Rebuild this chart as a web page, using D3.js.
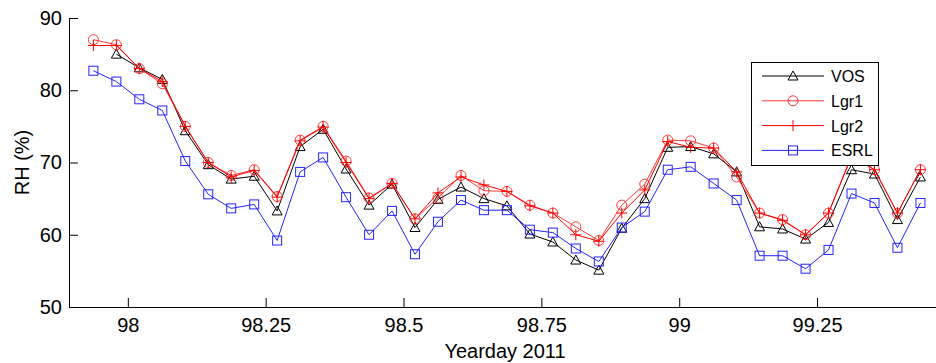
<!DOCTYPE html>
<html>
<head>
<meta charset="utf-8">
<script src="https://cdn.jsdelivr.net/npm/d3@7/dist/d3.min.js"></script>
<style>
  html, body { margin: 0; padding: 0; background: #fff; }
  svg { display: block; font-family: Arial, "Liberation Sans", sans-serif; }
</style>
</head>
<body>
<svg id="chart" width="936" height="363"></svg>
<script>
// Hourly relative humidity, yeardays 98-99 of 2011
const yearday = [
  97.9375, 97.9792, 98.0208, 98.0625, 98.1042, 98.1458, 98.1875, 98.2292,
  98.2708, 98.3125, 98.3542, 98.3958, 98.4375, 98.4792, 98.5208, 98.5625,
  98.6042, 98.6458, 98.6875, 98.7292, 98.7708, 98.8125, 98.8542, 98.8958,
  98.9375, 98.9792, 99.0208, 99.0625, 99.1042, 99.1458, 99.1875, 99.2292,
  99.2708, 99.3125, 99.3542, 99.3958, 99.4375
];
const vos = [
  null, 85.0, 83.1, 81.5, 74.4, 69.7, 67.7, 68.1, 63.3, 72.2, 74.6, 69.1,
  64.1, 67.0, 61.0, 64.9, 66.6, 65.0, 64.0, 60.1, 59.0, 56.5, 55.1, 60.9,
  65.0, 72.1, 72.2, 71.2, 68.7, 61.1, 60.8, 59.4, 61.7, 69.0, 68.4, 62.1, 68.0
];
const lgr1 = [
  87.0, 86.3, 83.0, 80.9, 75.0, 70.0, 68.2, 69.0, 65.3, 73.1, 75.0, 70.2,
  65.1, 67.1, 62.2, 65.1, 68.2, 66.1, 66.0, 64.1, 63.0, 61.1, 59.2, 64.1,
  67.0, 73.1, 73.0, 72.0, 68.0, 63.0, 62.1, 60.0, 63.0, 71.0, 69.0, 63.0, 69.0
];
const lgr2 = [
  86.2, 86.2, 83.0, 81.2, 75.0, 70.0, 68.0, 68.9, 65.2, 73.0, 74.9, 70.0,
  65.0, 67.1, 62.2, 65.8, 68.0, 66.9, 66.0, 64.0, 63.0, 60.0, 59.1, 63.0,
  66.2, 72.9, 72.1, 72.0, 68.7, 63.0, 62.0, 60.0, 63.0, 70.8, 69.0, 63.0, 69.0
];
const esrl = [
  82.7, 81.2, 78.75, 77.2, 70.2, 65.6, 63.65, 64.2, 59.2, 68.7, 70.7, 65.2,
  60.0, 63.3, 57.3, 61.8, 64.8, 63.4, 63.4, 60.7, 60.3, 58.1, 56.3, 61.0,
  63.2, 69.0, 69.4, 67.1, 64.8, 57.1, 57.1, 55.3, 57.9, 65.7, 64.4, 58.2, 64.4
];
const xTicks = [98, 98.25, 98.5, 98.75, 99, 99.25];
const xTickLabels = ["98", "98.25", "98.5", "98.75", "99", "99.25"];
const yTicks = [50, 60, 70, 80, 90];
const seriesNames = ["VOS", "Lgr1", "Lgr2", "ESRL"];

const series = [
  { name: seriesNames[0], values: vos,  color: "#000000", marker: "triangle" },
  { name: seriesNames[1], values: lgr1, color: "#ff3838", marker: "circle" },
  { name: seriesNames[2], values: lgr2, color: "#ff0000", marker: "plus" },
  { name: seriesNames[3], values: esrl, color: "#2424ff", marker: "square" }
];

const svg = d3.select("#chart");
const plotLeft = 69, plotTop = 18, plotBottom = 307;

const x = d3.scaleLinear().domain([97.8933, 99.4748]).range([plotLeft, 941]);
const y = d3.scaleLinear().domain([50, 90]).range([plotBottom, plotTop]);

const plot = svg.append("g");

// marker shapes
function drawMarker(g, type, cx, cy, color) {
  if (type === "triangle") {
    const s = 5;
    g.append("path")
      .attr("d", `M${cx},${cy - s}L${cx + s},${cy + s * 0.8}L${cx - s},${cy + s * 0.8}Z`)
      .attr("fill", "none").attr("stroke", color).attr("stroke-width", 1);
  } else if (type === "circle") {
    g.append("circle").attr("cx", cx).attr("cy", cy).attr("r", 5)
      .attr("fill", "none").attr("stroke", color).attr("stroke-width", 1);
  } else if (type === "plus") {
    const s = 5.5;
    g.append("path")
      .attr("d", `M${cx - s},${cy}H${cx + s}M${cx},${cy - s}V${cy + s}`)
      .attr("fill", "none").attr("stroke", color).attr("stroke-width", 1);
  } else if (type === "square") {
    const s = 4.5;
    g.append("rect").attr("x", cx - s).attr("y", cy - s)
      .attr("width", 2 * s).attr("height", 2 * s)
      .attr("fill", "none").attr("stroke", color).attr("stroke-width", 1);
  }
}

const line = d3.line()
  .defined(d => d[1] != null)
  .x(d => x(d[0]))
  .y(d => y(d[1]));

series.forEach(s => {
  const pts = yearday.map((t, i) => [t, s.values[i]]);
  const g = plot.append("g");
  g.append("path").datum(pts)
    .attr("d", line)
    .attr("fill", "none")
    .attr("stroke", s.color)
    .attr("stroke-width", 1);
  pts.filter(p => p[1] != null).forEach(p => drawMarker(g, s.marker, x(p[0]), y(p[1]), s.color));
});

// axes with inward ticks
const xAxis = d3.axisBottom(x)
  .tickValues(xTicks)
  .tickFormat((d, i) => xTickLabels[i])
  .tickSizeInner(-9).tickSizeOuter(0).tickPadding(11);
const yAxis = d3.axisLeft(y)
  .tickValues(yTicks)
  .tickFormat(d3.format("d"))
  .tickSizeInner(-9).tickSizeOuter(0).tickPadding(7);

const gx = svg.append("g").attr("transform", `translate(0,${plotBottom})`).call(xAxis);
const gy = svg.append("g").attr("transform", `translate(${plotLeft},0)`).call(yAxis);
[gx, gy].forEach(g => {
  g.select(".domain").attr("stroke", "#000");
  g.selectAll(".tick line").attr("stroke", "#000");
  g.selectAll(".tick text").attr("fill", "#000").style("font-size", "20px")
    .style("font-family", "Arial, 'Liberation Sans', sans-serif");
});
gx.select(".domain").attr("d", `M${plotLeft},0.5H936`);

svg.append("text")
  .attr("x", 505).attr("y", 358)
  .attr("text-anchor", "middle")
  .style("font-size", "20px")
  .text("Yearday 2011");

svg.append("text")
  .attr("transform", `translate(29,${(plotTop + plotBottom) / 2}) rotate(-90)`)
  .attr("text-anchor", "middle")
  .style("font-size", "20px")
  .text("RH (%)");

// legend
const leg = svg.append("g");
leg.append("rect")
  .attr("x", 751.5).attr("y", 62.5).attr("width", 127).attr("height", 103)
  .attr("fill", "#fff").attr("stroke", "#000").attr("stroke-width", 1);
series.forEach((s, i) => {
  const ly = 76 + i * 24.8;
  leg.append("line").attr("x1", 762).attr("x2", 824)
    .attr("y1", ly).attr("y2", ly)
    .attr("stroke", s.color).attr("stroke-width", 1);
  drawMarker(leg, s.marker, 793, ly, s.color);
  leg.append("text").attr("x", 831).attr("y", ly + 6)
    .style("font-size", "16px").attr("fill", "#000")
    .text(s.name);
});
</script>
</body>
</html>
